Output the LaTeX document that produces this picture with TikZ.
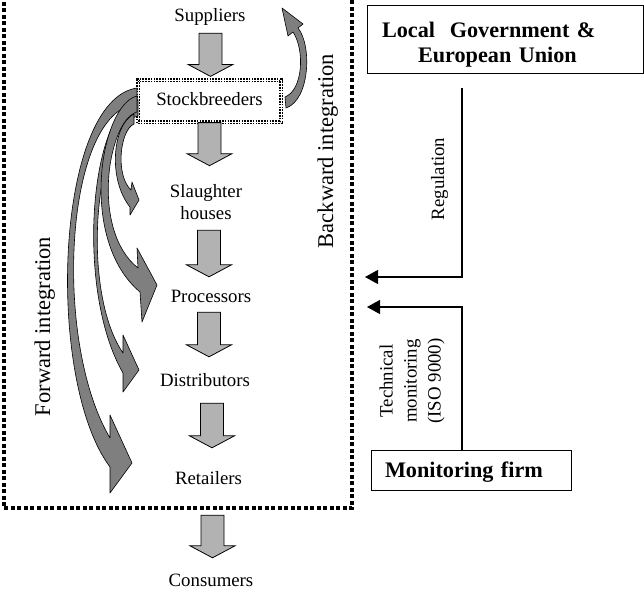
\documentclass[tikz,border=0pt]{standalone}
\usepackage{fontspec}
\setmainfont{Liberation Serif}
\usetikzlibrary{arrows.meta,calc}
\definecolor{lightarr}{HTML}{B2B2B2}
\definecolor{darkarr}{HTML}{7F7F7F}
\newcommand{\stagefont}{\fontsize{18.8}{22}\selectfont}
\newcommand{\ctrlfont}{\bfseries\fontsize{22.2}{25}\selectfont}
\newcommand{\sidefont}{\fontsize{22.5}{27}\selectfont}
\tikzstyle{stage} = [font=\stagefont, inner sep=0pt, text height=13pt, text depth=4pt]
\tikzstyle{stagetwo} = [font=\stagefont, inner sep=0pt, align=center]
\tikzstyle{sbbox} = [stage, draw=black, line width=1.2pt, double=white, double distance=0.7pt, dash pattern=on 1.6pt off 1.2pt, minimum width=143pt, minimum height=42pt]
\tikzstyle{note} = [font=\stagefont, inner sep=0pt]
\tikzstyle{side} = [font=\sidefont, inner sep=0pt]
\tikzstyle{ctrlbox} = [draw=black, line width=1pt, font=\ctrlfont, align=left, inner ysep=0pt, text depth=0pt]
\tikzstyle{ctrl} = [draw=black, line width=1.2pt, -{Triangle[length=13pt,width=14pt]}]
\tikzstyle{curvearr} = [fill=darkarr, draw=black, line width=0.6pt, line join=round]
\tikzstyle{frame} = [line width=3.5pt, dash pattern=on 4pt off 2.5pt]
\tikzset{blockflow/.style n args={3}{fill=lightarr, draw=black, line width=0.8pt,
  to path={let \p1=(\tikztostart), \p2=(\tikztotarget) in
    ({\x1+(#1)-11.5pt},{\y1-(#2)}) -- ({\x1+(#1)+11.5pt},{\y1-(#2)})
    -- ({\x1+(#1)+11.5pt},{\y2+(#3)+12pt}) -- ({\x1+(#1)+22.5pt},{\y2+(#3)+12pt})
    -- ({\x1+(#1)},{\y2+(#3)}) -- ({\x1+(#1)-22.5pt},{\y2+(#3)+12pt})
    -- ({\x1+(#1)-11.5pt},{\y2+(#3)+12pt}) -- cycle}}}

\begin{document}
\begin{tikzpicture}[x=1pt, y=-1pt]
\useasboundingbox (0,0) rectangle (644,597);
\draw[frame] (4,-5) -- (4,508) -- (352,508) -- (352,-5);

\node[stage, anchor=base] (sup) at (210,21.7) {Suppliers};
\node[sbbox] (sb) at (209.5,101) {Stockbreeders};
\node[stagetwo] (sla) at (206,202.5) {Slaughter\\houses};
\node[stage, anchor=base] (pro) at (211,302.5) {Processors};
\node[stage, anchor=base] (dis) at (205,386) {Distributors};
\node[stage, anchor=base] (ret) at (208.5,484) {Retailers};
\node[stage, anchor=base] (con) at (211,586) {Consumers};

\draw[blockflow={0.5pt}{7.3pt}{3pt}] (sup.south) to (sb.north);
\draw[blockflow={0pt}{0pt}{19pt}] (sb.south) to (sla.north);
\draw[blockflow={3pt}{10pt}{12.5pt}] (sla.south) to (pro.north);
\draw[blockflow={-2pt}{5.5pt}{16pt}] (pro.south) to (dis.north);
\draw[blockflow={7pt}{13pt}{23pt}] (dis.south) to (ret.north);
\draw[blockflow={4pt}{27pt}{15pt}] (ret.south) to (con.north);

\filldraw[curvearr] (137,88) .. controls (55,100) and (45,380) .. (110,467) -- (110,493) -- (132,463) -- (110,415) -- (110,438) .. controls (52,340) and (65,110) .. (137,104) -- cycle;
\filldraw[curvearr] (138,100) .. controls (90,110) and (75,290) .. (123,373) -- (123,392) -- (139,370) -- (123,335) -- (123,353) .. controls (80,290) and (95,125) .. (138,116) -- cycle;
\filldraw[curvearr] (137,96) .. controls (100,105) and (78,240) .. (140,292) -- (142,322) -- (157,285) -- (137,248) -- (138,268) .. controls (90,230) and (108,120) .. (137,112) -- cycle;
\filldraw[curvearr] (134,114) .. controls (112,125) and (108,180) .. (130,207) -- (130,215) -- (139,200) -- (132,182) -- (131,190) .. controls (115,175) and (120,130) .. (134,124) -- cycle;
\filldraw[curvearr] (286,108) .. controls (310,100) and (312,45) .. (298,28) -- (303,24) -- (282,8) -- (288,36) -- (293,32) .. controls (305,50) and (303,90) .. (285,97) -- cycle;

\node[side, rotate=90, anchor=base] (bwd) at (333,151) {Backward integration};
\node[side, rotate=90, anchor=base] (fwd) at (50,326.5) {Forward integration};

\node[ctrlbox, text height=15pt, text depth=19pt, minimum width=276pt, minimum height=68pt, text width=246pt, inner xsep=15pt] (lg) at (505,39) {Local\ \ Government \&\\\hspace*{36pt}European Union};
\node[ctrlbox, minimum width=200pt, minimum height=40pt, text width=172pt, inner xsep=14pt] (mon) at (471,470) {Monitoring firm};
\node[note, rotate=90, anchor=base] (reg) at (444,179) {Regulation};
\node[note, rotate=90, align=center, font=\fontsize{18.8}{24}\selectfont] (tech) at (412,381) {Technical\\monitoring\\(ISO 9000)};

\coordinate (regin) at (365,277);
\coordinate (monin) at (367,307);
\draw[ctrl] ([xshift=-43pt,yshift=-14pt]lg.south) |- (regin);
\draw[ctrl] ([xshift=-9pt]mon.north) |- (monin);
\end{tikzpicture}
\end{document}
